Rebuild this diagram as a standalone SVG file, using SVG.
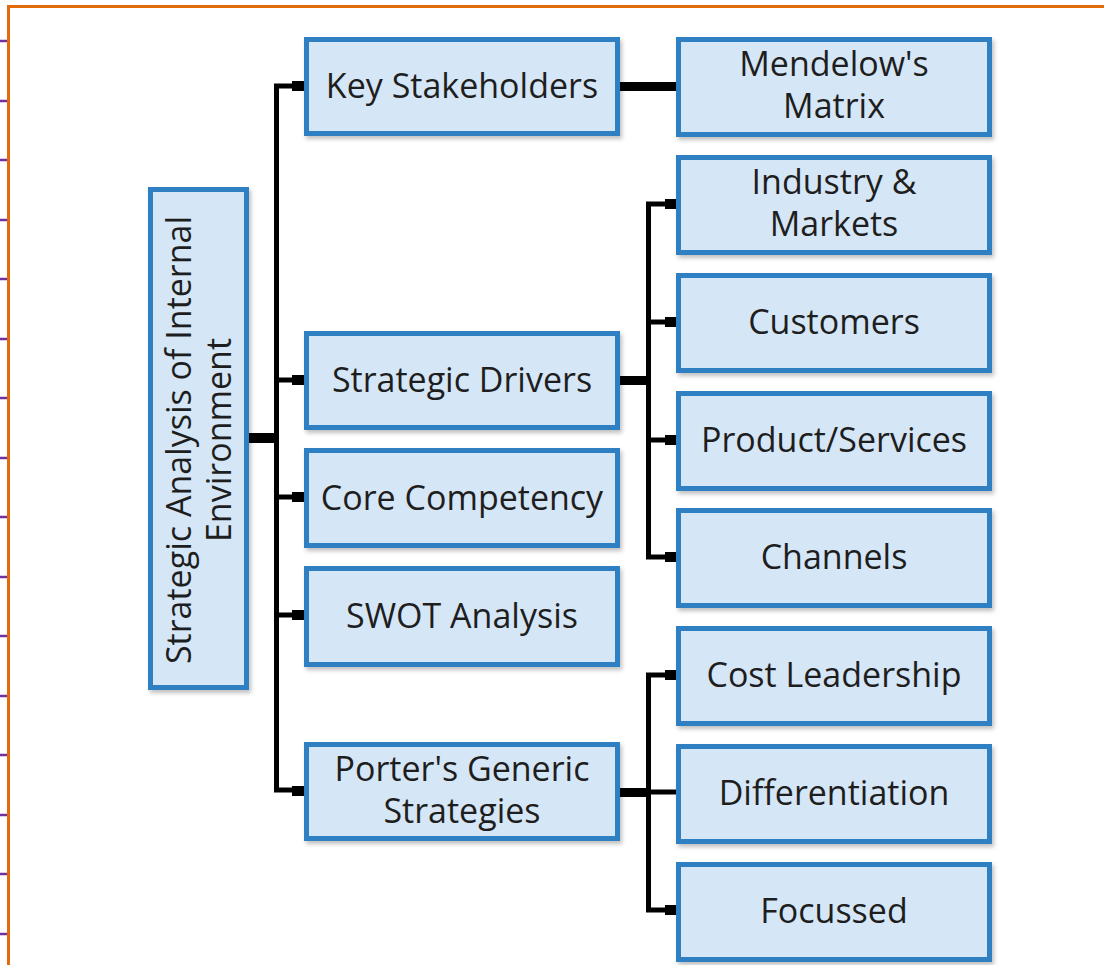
<svg xmlns="http://www.w3.org/2000/svg" width="1104" height="965" viewBox="0 0 1104 965">
<defs>
<filter id="sh" x="-10%" y="-10%" width="125%" height="130%">
<feDropShadow dx="2" dy="3" stdDeviation="2" flood-color="#000" flood-opacity="0.25"/>
</filter>
<style>
.box{fill:#D5E6F6;stroke:#2E80C3;stroke-width:5;filter:url(#sh)}
.t{font-family:"Open Sans",Lato,sans-serif;font-size:34px;fill:#1e1e1e;text-anchor:middle}
.ln{fill:none;stroke:#000;stroke-width:5;stroke-linejoin:miter}
.tk{fill:#000}
.tick{stroke:#7030A0;stroke-width:2.5}
</style>
</defs>
<rect x="0" y="0" width="1104" height="965" fill="#fff"/>
<g id="frame">
<line x1="7" y1="6.5" x2="1104" y2="6.5" stroke="#E36C0A" stroke-width="3"/>
<line x1="8.5" y1="5" x2="8.5" y2="965" stroke="#E36C0A" stroke-width="3"/>
<g class="tick">
<line x1="0" y1="41" x2="7" y2="41"/><line x1="0" y1="101" x2="7" y2="101"/><line x1="0" y1="160" x2="7" y2="160"/><line x1="0" y1="220" x2="7" y2="220"/><line x1="0" y1="279" x2="7" y2="279"/><line x1="0" y1="339" x2="7" y2="339"/><line x1="0" y1="398" x2="7" y2="398"/><line x1="0" y1="458" x2="7" y2="458"/><line x1="0" y1="517" x2="7" y2="517"/><line x1="0" y1="577" x2="7" y2="577"/><line x1="0" y1="636" x2="7" y2="636"/><line x1="0" y1="696" x2="7" y2="696"/><line x1="0" y1="755" x2="7" y2="755"/><line x1="0" y1="815" x2="7" y2="815"/><line x1="0" y1="874" x2="7" y2="874"/><line x1="0" y1="934" x2="7" y2="934"/>
</g>
</g>
<g id="connectors">
<path class="ln" d="M 304 86 H 276.5 V 790 H 304"/>
<path class="ln" d="M 276 380 H 304 M 276 497 H 304 M 276 615 H 304"/>
<rect class="tk" x="249" y="433" width="28" height="10"/>
<rect class="tk" x="292" y="81" width="12" height="10"/>
<rect class="tk" x="292" y="375" width="12" height="10"/>
<rect class="tk" x="292" y="492" width="12" height="10"/>
<rect class="tk" x="292" y="610" width="12" height="10"/>
<rect class="tk" x="292" y="786" width="12" height="10"/>
<rect class="tk" x="620" y="82" width="56" height="9"/>
<path class="ln" d="M 676 204 H 648.5 V 557 H 676 M 648 322 H 676 M 648 440 H 676"/>
<rect class="tk" x="620" y="376" width="29" height="9"/>
<rect class="tk" x="665" y="199" width="11" height="10"/>
<rect class="tk" x="665" y="317" width="11" height="10"/>
<rect class="tk" x="665" y="435" width="11" height="10"/>
<rect class="tk" x="665" y="552" width="11" height="10"/>
<path class="ln" d="M 676 675 H 648.5 V 910 H 676 M 620 792 H 676"/>
<rect class="tk" x="620" y="788" width="28" height="9"/>
<rect class="tk" x="665" y="670" width="11" height="10"/>
<rect class="tk" x="665" y="905" width="11" height="10"/>
</g>
<g id="n-root">
<rect class="box" x="150.5" y="189.5" width="96" height="498"/>
<text class="t" transform="translate(191,440) rotate(-90)">Strategic Analysis of Internal</text>
<text class="t" transform="translate(231,440) rotate(-90)">Environment</text>
</g>
<g id="n-key">
<rect class="box" x="306.5" y="39.5" width="311" height="94"/>
<text class="t" x="462" y="98">Key Stakeholders</text>
</g>
<g id="n-drivers">
<rect class="box" x="306.5" y="333.5" width="311" height="94"/>
<text class="t" x="462" y="392">Strategic Drivers</text>
</g>
<g id="n-core">
<rect class="box" x="306.5" y="450.5" width="311" height="95"/>
<text class="t" x="462" y="510">Core Competency</text>
</g>
<g id="n-swot">
<rect class="box" x="306.5" y="568.5" width="311" height="96"/>
<text class="t" x="462" y="628">SWOT Analysis</text>
</g>
<g id="n-porter">
<rect class="box" x="306.5" y="744.5" width="311" height="94"/>
<text class="t" x="462" y="781">Porter's Generic</text>
<text class="t" x="462" y="823">Strategies</text>
</g>
<g id="n-mendelow">
<rect class="box" x="678.5" y="39.5" width="311" height="95"/>
<text class="t" x="834" y="76">Mendelow's</text>
<text class="t" x="834" y="118">Matrix</text>
</g>
<g id="n-industry">
<rect class="box" x="678.5" y="157.5" width="311" height="95"/>
<text class="t" x="834" y="194">Industry &amp;</text>
<text class="t" x="834" y="236">Markets</text>
</g>
<g id="n-customers">
<rect class="box" x="678.5" y="275.5" width="311" height="95"/>
<text class="t" x="834" y="334">Customers</text>
</g>
<g id="n-product">
<rect class="box" x="678.5" y="393.5" width="311" height="95"/>
<text class="t" x="834" y="452">Product/Services</text>
</g>
<g id="n-channels">
<rect class="box" x="678.5" y="510.5" width="311" height="95"/>
<text class="t" x="834" y="569">Channels</text>
</g>
<g id="n-cost">
<rect class="box" x="678.5" y="628.5" width="311" height="95"/>
<text class="t" x="834" y="687">Cost Leadership</text>
</g>
<g id="n-diff">
<rect class="box" x="678.5" y="746.5" width="311" height="95"/>
<text class="t" x="834" y="805">Differentiation</text>
</g>
<g id="n-focus">
<rect class="box" x="678.5" y="864.5" width="311" height="95"/>
<text class="t" x="834" y="923">Focussed</text>
</g>
</svg>
